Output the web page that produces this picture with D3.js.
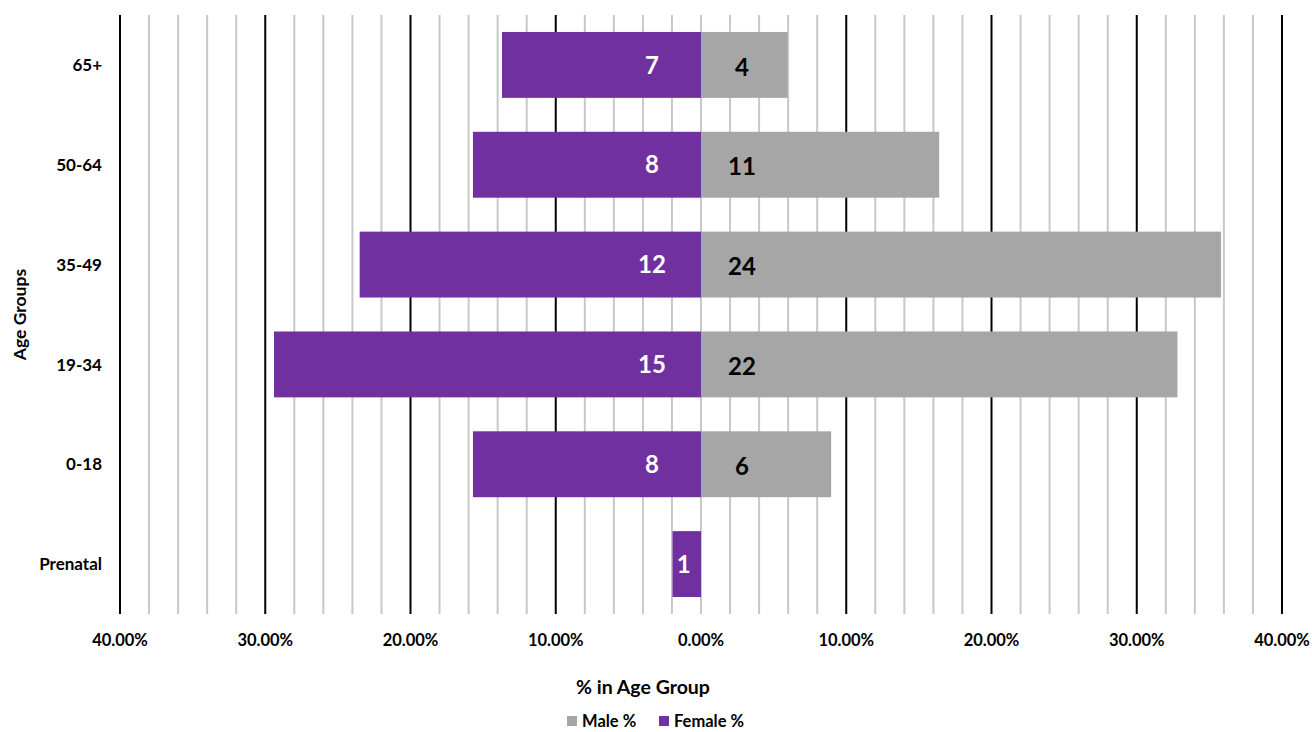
<!DOCTYPE html>
<html><head><meta charset="utf-8">
<script src="https://cdn.jsdelivr.net/npm/d3@7"></script>
<style>
body{margin:0;background:#fff;}
text{font-family:Lato,"Open Sans",sans-serif;font-weight:bold;}
</style></head>
<body><svg id="c" width="1312" height="732"></svg>
<script>
const categories = ["65+","50-64","35-49","19-34","0-18","Prenatal"];
const femalePct = [13.7, 15.7, 23.5, 29.4, 15.7, 1.96];
const malePct   = [5.97, 16.4, 35.8, 32.8, 8.96, 0];
const femaleCount = [7, 8, 12, 15, 8, 1];
const maleCount   = [4, 11, 24, 22, 6, null];
const tickValues = [-40,-30,-20,-10,0,10,20,30,40];
const tickLabels = ["40.00%","30.00%","20.00%","10.00%","0.00%","10.00%","20.00%","30.00%","40.00%"];
const seriesNames = ["Male %","Female %"];

const svg = d3.select("#c");
const pL = 120, pR = 1282, pT = 15, pB = 614;
const x = d3.scaleLinear().domain([-40,40]).range([pL,pR]);
const y = d3.scaleBand().domain(categories).range([pT,pB]).paddingInner(0.34).paddingOuter(0.17);
const purple = "#7030A0", grey = "#A6A6A6";

// gridlines
const minor = d3.range(-40, 41, 2);
svg.append("g").selectAll("line").data(minor).join("line")
  .attr("x1", d=>x(d)).attr("x2", d=>x(d)).attr("y1", pT).attr("y2", pB)
  .attr("stroke", d => (d%10===0 && d!==0) ? "#000" : "#C8C8C8")
  .attr("stroke-width", 2);

// bars
const rows = categories.map((c,i)=>({c, f:femalePct[i], m:malePct[i], fc:femaleCount[i], mc:maleCount[i]}));
svg.append("g").selectAll("rect").data(rows).join("rect")
  .attr("x", d=>x(-d.f)).attr("width", d=>x(0)-x(-d.f))
  .attr("y", d=>y(d.c)).attr("height", y.bandwidth()).attr("fill", purple);
svg.append("g").selectAll("rect").data(rows.filter(d=>d.m>0)).join("rect")
  .attr("x", x(0)).attr("width", d=>x(d.m)-x(0))
  .attr("y", d=>y(d.c)).attr("height", y.bandwidth()).attr("fill", grey);

// labels
svg.append("g").selectAll("text").data(rows).join("text")
  .attr("x", d=>Math.max(x(0)-49, (x(-d.f)+x(0))/2 - 3))
  .attr("y", d=>y(d.c)+y.bandwidth()/2).attr("dy","0.36em")
  .attr("text-anchor","middle").attr("fill","#fff").style("font-size","24px")
  .text(d=>d.fc);
svg.append("g").selectAll("text").data(rows.filter(d=>d.mc!=null)).join("text")
  .attr("x", x(0)+41)
  .attr("y", d=>y(d.c)+y.bandwidth()/2+2).attr("dy","0.36em")
  .attr("text-anchor","middle").attr("fill","#000").style("font-size","24px")
  .text(d=>d.mc);

// x tick labels
svg.append("g").selectAll("text").data(tickValues).join("text")
  .attr("x", d=>x(d)).attr("y", 646).attr("text-anchor","middle")
  .style("font-size","16.5px").attr("fill","#000")
  .text((d,i)=>tickLabels[i]);

// y category labels
svg.append("g").selectAll("text").data(categories).join("text")
  .attr("x", 102).attr("y", d=>y(d)+y.bandwidth()/2).attr("dy","0.36em")
  .attr("text-anchor","end").style("font-size","17px").attr("fill","#000")
  .text(d=>d);

// axis titles
svg.append("text").attr("x", 643).attr("y", 694).attr("text-anchor","middle")
  .style("font-size","19.5px").text("% in Age Group");
svg.append("text").attr("transform","translate(26,"+((pT+pB)/2)+") rotate(-90)")
  .attr("text-anchor","middle").style("font-size","17.5px").text("Age Groups");

// legend
const leg = svg.append("g");
const legColors = [grey, purple];
const legX = [567, 659];
seriesNames.forEach((n,i)=>{
  leg.append("rect").attr("x", legX[i]).attr("y", 716).attr("width", 10).attr("height", 10).attr("fill", legColors[i]);
  leg.append("text").attr("x", legX[i]+15).attr("y", 726.5).style("font-size","16.5px").text(n);
});
</script></body></html>
